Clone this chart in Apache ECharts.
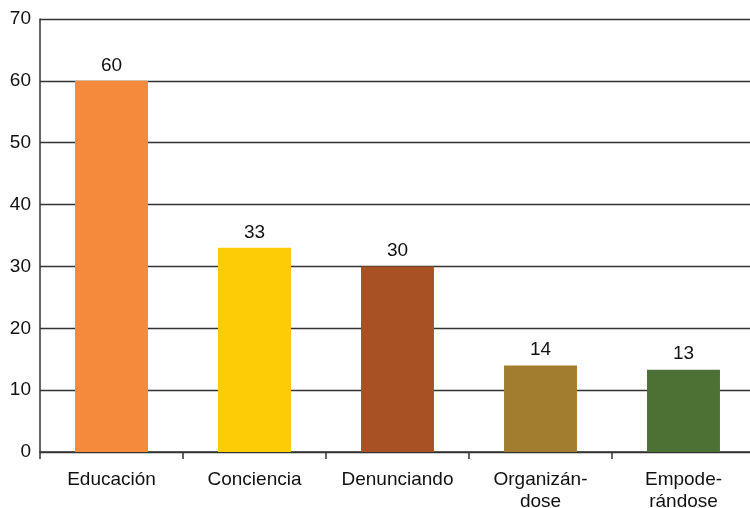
<!DOCTYPE html>
<html>
<head>
<meta charset="utf-8">
<script src="https://cdn.jsdelivr.net/npm/echarts@6/dist/echarts.min.js"></script>
<style>html,body{margin:0;padding:0;background:#fff}#c{width:750px;height:508px}</style>
</head>
<body>
<div id="c"></div>
<script>
const categories = ['Educación', 'Conciencia', 'Denunciando', 'Organizán-\ndose', 'Empode-\nrándose'];
const values = [60, 33, 30, 14, 13.3];
const colors = ['#F68A3C', '#FECC07', '#A75125', '#A37D2F', '#4B7134'];
const yTicks = [0, 10, 20, 30, 40, 50, 60, 70];

const chart = echarts.init(document.getElementById('c'));
chart.setOption({
  animation: false,
  grid: { left: 40, top: 19, width: 715, height: 433, containLabel: false, outerBoundsMode: 'none' },
  xAxis: {
    type: 'category',
    data: categories,
    axisLine: { lineStyle: { color: '#333', width: 1.5 } },
    axisTick: { show: true, interval: 0, length: 7, lineStyle: { color: '#333', width: 1.5 } },
    axisLabel: { interval: 0, hideOverlap: false, color: '#111', fontSize: 19, fontFamily: 'Liberation Sans, Arial, sans-serif', margin: 17, lineHeight: 22 }
  },
  yAxis: {
    type: 'value',
    min: yTicks[0],
    max: yTicks[yTicks.length - 1],
    interval: 10,
    axisLine: { show: true, lineStyle: { color: '#333', width: 1.5 } },
    axisTick: { show: false },
    splitLine: { lineStyle: { color: '#333', width: 1.3 } },
    axisLabel: { color: '#111', fontSize: 19, fontFamily: 'Liberation Sans, Arial, sans-serif', margin: 9 }
  },
  series: [{
    type: 'bar',
    barWidth: '51%',
    data: values.map((v, i) => ({ value: v, itemStyle: { color: colors[i] } })),
    label: {
      show: true,
      position: 'top',
      distance: 6,
      color: '#111',
      fontSize: 19,
      fontFamily: 'Liberation Sans, Arial, sans-serif',
      formatter: p => Math.round(p.value)
    }
  }]
});
</script>
</body>
</html>
